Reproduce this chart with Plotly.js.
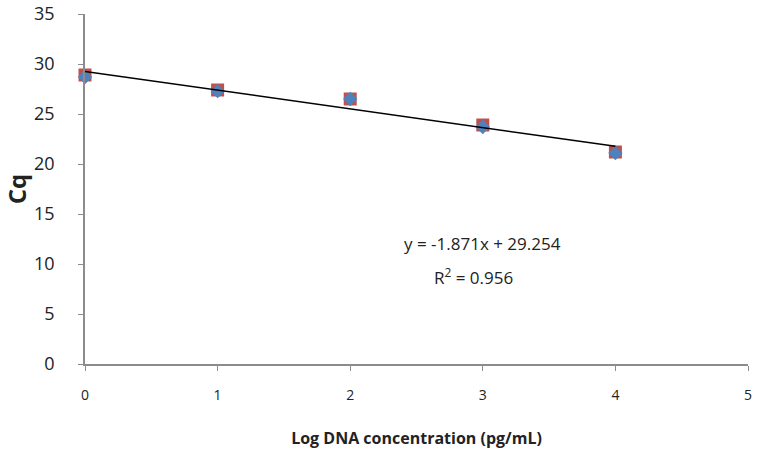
<!DOCTYPE html>
<html>
<head>
<meta charset="utf-8">
<script src="https://cdn.plot.ly/plotly-3.0.1.min.js"></script>
<style>
  html, body { margin: 0; padding: 0; background: #fff; }
  #chart { width: 759px; height: 454px; }
</style>
</head>
<body>
<div id="chart"></div>
<script>
// Log DNA concentration (pg/mL)
const logConc = [0, 1, 2, 3, 4];
// Cq, two replicate series
const cqRed = [28.9, 27.4, 26.5, 23.9, 21.2];
const cqBlue = [28.7, 27.3, 26.5, 23.7, 21.1];
// linear trendline y = -1.871x + 29.254, endpoints
const trendX = [0, 4];
const trendY = [29.254, 21.77];

const fontFam = "Open Sans, Liberation Sans, sans-serif";

const traces = [
  {
    x: logConc, y: cqRed, type: "scatter", mode: "markers", cliponaxis: false,
    marker: { symbol: "square", size: 13, color: "#c0504d" },
    showlegend: false
  },
  {
    x: logConc, y: cqBlue, type: "scatter", mode: "markers", cliponaxis: false,
    marker: { symbol: "diamond", size: 11, color: "#4f81bd" },
    showlegend: false
  },
  {
    x: trendX, y: trendY, type: "scatter", mode: "lines",
    line: { color: "#000", width: 1.5 },
    showlegend: false
  }
];

const layout = {
  width: 759,
  height: 454,
  margin: { l: 85, r: 11, t: 14, b: 90 },
  paper_bgcolor: "#fff",
  plot_bgcolor: "#fff",
  font: { family: fontFam, size: 16, color: "#222" },
  xaxis: {
    range: [0, 5],
    dtick: 1,
    showgrid: false,
    zeroline: false,
    showline: true,
    linecolor: "#8c8c8c",
    linewidth: 1.5,
    ticks: "outside",
    ticklen: 5,
    tickcolor: "#8c8c8c",
    ticklabelstandoff: 12,
    tickfont: { size: 14 },
    title: { text: "<b>Log DNA concentration (pg/mL)</b>", font: { size: 16 }, standoff: 30 }
  },
  yaxis: {
    range: [0, 35],
    dtick: 5,
    showgrid: false,
    zeroline: false,
    showline: true,
    linecolor: "#8c8c8c",
    linewidth: 1.5,
    ticks: "outside",
    ticklen: 5,
    tickcolor: "#8c8c8c",
    ticklabelstandoff: 20,
    tickfont: { size: 18 },
    title: { text: "<b>Cq</b>", font: { size: 24 }, standoff: 6 }
  },
  annotations: [
    {
      x: 3, y: 12.1, xref: "x", yref: "y",
      text: "y = -1.871x + 29.254", showarrow: false,
      font: { size: 17 }
    },
    {
      x: 2.93, y: 8.8, xref: "x", yref: "y",
      text: "R<sup>2</sup> = 0.956", showarrow: false,
      font: { size: 17 }
    }
  ]
};

Plotly.newPlot("chart", traces, layout, { displayModeBar: false });
</script>
</body>
</html>
